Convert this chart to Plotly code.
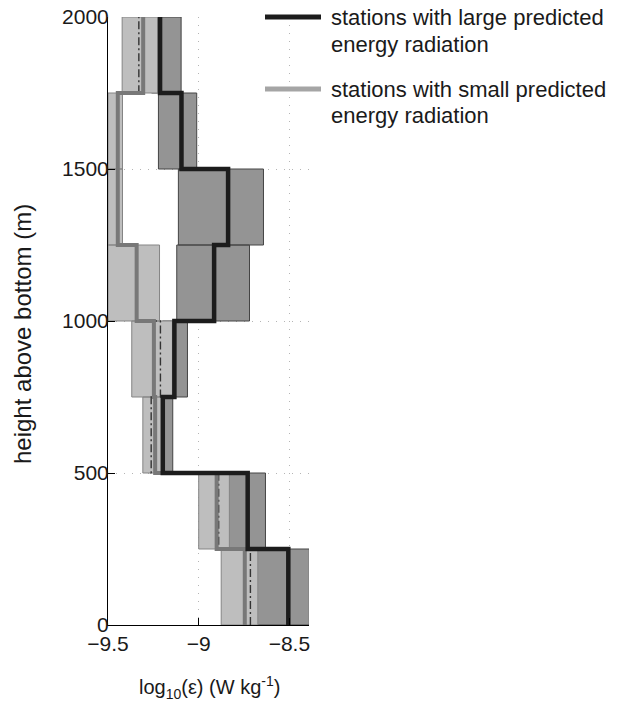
import plotly.graph_objects as go

# Depth bins (height above bottom, m)
bin_edges = [0, 250, 500, 750, 1000, 1250, 1500, 1750, 2000]

# Stations with large predicted energy radiation: central value and bootstrap interval
large_mean = [-8.506, -8.730, -9.198, -9.134, -8.915, -8.838, -9.095, -9.213]
large_lo = [-8.700, -8.850, -9.240, -9.200, -9.121, -9.112, -9.222, -9.260]
large_hi = [-8.390, -8.632, -9.143, -9.062, -8.720, -8.643, -9.011, -9.097]

# Stations with small predicted energy radiation
small_mean = [-8.746, -8.901, -9.240, -9.247, -9.342, -9.446, -9.446, -9.306]
small_median = [-8.715, -8.890, -9.262, -9.211, -9.345, -9.446, -9.446, -9.330]
small_lo = [-8.876, -9.000, -9.308, -9.369, -9.500, -9.500, -9.500, -9.422]
small_hi = [-8.674, -8.831, -9.200, -9.145, -9.216, -9.420, -9.420, -9.226]

x_ticks = [-9.5, -9.0, -8.5]
y_ticks = [0, 500, 1000, 1500, 2000]

legend_labels = ["stations with large predicted<br>energy radiation",
                 "stations with small predicted<br>energy radiation"]

FONT = "Liberation Sans, Arial, sans-serif"
W, H = 617, 703
ML, MR, MT, MB = 108, 308, 17, 78
PW, PH = W - ML - MR, H - MT - MB


def px_x(p):
    return (p - ML) / PW


def px_y(p):
    return 1 - (p - MT) / PH


def boxes(lo, hi):
    xs, ys = [], []
    for i in range(len(lo)):
        y0, y1 = bin_edges[i], bin_edges[i + 1]
        xs += [lo[i], hi[i], hi[i], lo[i], lo[i], None]
        ys += [y0, y0, y1, y1, y0, None]
    return xs, ys


def steps(vals):
    return list(vals) + [vals[-1]], bin_edges


fig = go.Figure()

bx, by = boxes(large_lo, large_hi)
fig.add_trace(go.Scatter(x=bx, y=by, mode="lines", fill="toself",
                         fillcolor="#949494", line=dict(color="#444444", width=1),
                         hoverinfo="skip", showlegend=False))
bx, by = boxes(small_lo, small_hi)
fig.add_trace(go.Scatter(x=bx, y=by, mode="lines", fill="toself",
                         fillcolor="#bebebe", line=dict(color="#858585", width=1),
                         hoverinfo="skip", showlegend=False))

sx, sy = steps(small_median)
fig.add_trace(go.Scatter(x=sx, y=sy, mode="lines", line_shape="vh",
                         line=dict(color="#333333", width=1.4, dash="8px,3px,2px,3px"),
                         showlegend=False))
sx, sy = steps(small_mean)
fig.add_trace(go.Scatter(x=sx, y=sy, mode="lines", line_shape="vh",
                         line=dict(color="#787878", width=4),
                         showlegend=False))
sx, sy = steps(large_mean)
fig.add_trace(go.Scatter(x=sx, y=sy, mode="lines", line_shape="vh",
                         line=dict(color="#1c1c1c", width=4.5),
                         showlegend=False))

axis_common = dict(showline=True, linecolor="#000", linewidth=1, mirror=False,
                   ticks="inside", ticklen=7, tickwidth=1.2, tickcolor="#000",
                   showgrid=True, gridcolor="#b5b5b5", gridwidth=1, griddash="1px,7px",
                   zeroline=False, automargin=False,
                   tickfont=dict(family=FONT, size=21, color="#1a1a1a"))

fig.update_xaxes(range=[-9.5, -8.392], tickvals=x_ticks,
                 ticktext=["\u22129.5", "\u22129", "\u22128.5"], **axis_common)
fig.update_yaxes(range=[0, 2000], tickvals=y_ticks, ticklabelstandoff=-6, **axis_common)

annotations = [
    dict(text="height above bottom (m)", textangle=-90, x=px_x(22), y=px_y(334),
         xref="paper", yref="paper", showarrow=False, xanchor="center", yanchor="middle",
         font=dict(family=FONT, size=24, color="#1a1a1a")),
    dict(text="log<sub>10</sub>(\u03b5) (W kg<sup>-1</sup>)", x=px_x(209), y=px_y(687),
         xref="paper", yref="paper", showarrow=False, xanchor="center", yanchor="middle",
         font=dict(family=FONT, size=20, color="#1a1a1a")),
]
shapes = []
legend_colors = ["#1c1c1c", "#a5a5a5"]
legend_rows = [17, 89]
for label, color, row in zip(legend_labels, legend_colors, legend_rows):
    shapes.append(dict(type="line", xref="paper", yref="paper",
                       x0=px_x(265), x1=px_x(321), y0=px_y(row), y1=px_y(row),
                       line=dict(color=color, width=5)))
    for k, part in enumerate(label.split("<br>")):
        annotations.append(dict(text=part, x=px_x(329), y=px_y(row + 27 * k),
                                xref="paper", yref="paper", showarrow=False,
                                xanchor="left", yanchor="middle", align="left",
                                font=dict(family=FONT, size=22, color="#1a1a1a")))

fig.update_layout(width=W, height=H, margin=dict(l=ML, r=MR, t=MT, b=MB, autoexpand=False),
                  plot_bgcolor="white", paper_bgcolor="white",
                  annotations=annotations, shapes=shapes, showlegend=False)

fig.write_html("out.html")
